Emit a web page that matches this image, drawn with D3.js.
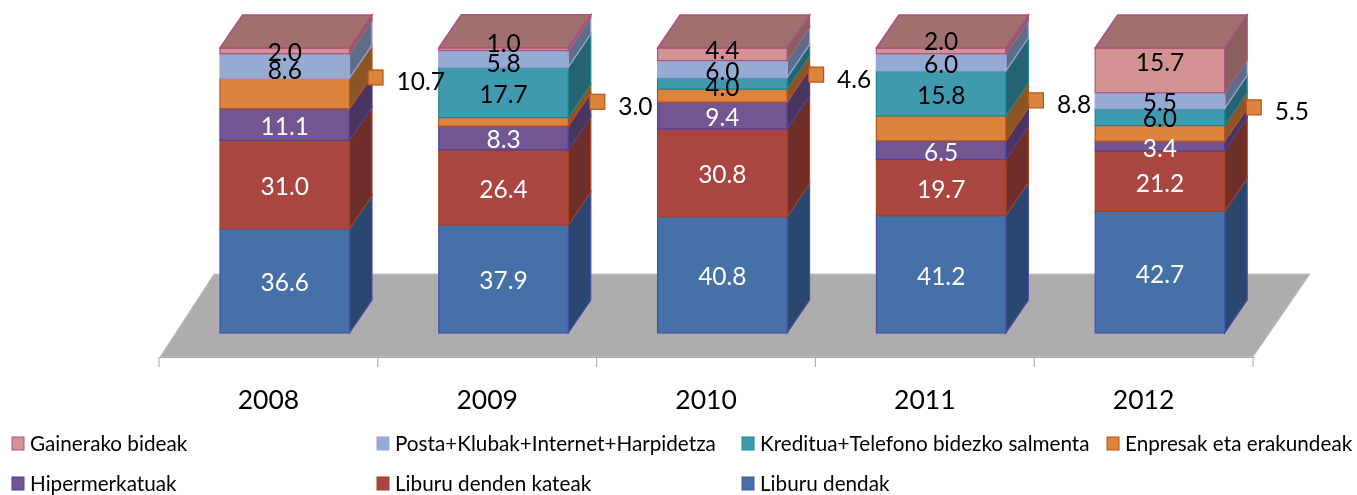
<!DOCTYPE html>
<html>
<head>
<meta charset="utf-8">
<script src="https://cdn.jsdelivr.net/npm/d3@7"></script>
<style>
    html, body {margin: 0; padding: 0; background: #fff;}
    svg {display: block;}
    text {font-family: Lato, "Open Sans", sans-serif;}
</style>
</head>
<body>
<svg id="chart"></svg>
<script>
//chart data
const years = ['2008', '2009', '2010', '2011', '2012'];
const liburuDendak = [36.6, 37.9, 40.8, 41.2, 42.7];
const liburuKateak = [31.0, 26.4, 30.8, 19.7, 21.2];
const hipermerkatuak = [11.1, 8.3, 9.4, 6.5, 3.4];
const enpresak = [10.7, 3.0, 4.6, 8.8, 5.5];
const kreditua = [0, 17.7, 4.0, 15.8, 6.0];
const posta = [8.6, 5.8, 6.0, 6.0, 5.5];
const gainerako = [2.0, 1.0, 4.4, 2.0, 15.7];

const seriesNames = [
    'Liburu dendak', 'Liburu denden kateak', 'Hipermerkatuak', 'Enpresak eta erakundeak',
    'Kreditua+Telefono bidezko salmenta', 'Posta+Klubak+Internet+Harpidetza', 'Gainerako bideak'
];
const seriesValues = [liburuDendak, liburuKateak, hipermerkatuak, enpresak, kreditua, posta, gainerako];

//legend reads in reverse stacking order, four on the first row
const legendOrder = seriesNames.slice().reverse();

//colours per series: front face, side face, outline
const frontColors = ['#4571a8', '#aa4541', '#735592', '#dc843b', '#3f9aaf', '#95abd3', '#d29392'];
const sideColors = ['#2c4770', '#6e2d2b', '#4a3660', '#8c5528', '#286470', '#5f6e88', '#8a5f5e'];
const strokeColors = ['#4a50a8', '#a8421f', '#4a3fa0', '#b8521a', '#158a90', '#a0a4d8', '#b04f80'];
const topColor = '#a0706e';
const whiteLabels = ['Liburu dendak', 'Liburu denden kateak', 'Hipermerkatuak'];

const width = 1357, height = 495;
const barInset = 61, barWidth = 129.5;
const depthX = 22.5, depthY = 33;

//manual fixes for labels the original moved around to make room
const labelNudge = {
    '2008|Posta+Klubak+Internet+Harpidetza': 3,
    '2009|Gainerako bideak': -8,
    '2009|Posta+Klubak+Internet+Harpidetza': 3,
    '2010|Gainerako bideak': -6,
    '2010|Kreditua+Telefono bidezko salmenta': 2,
    '2011|Gainerako bideak': -11,
    '2012|Gainerako bideak': -10
};
//how far the callout squares sit above the orange segment and right of the bar
const calloutLift = [16, 20, 21, 28, 26];
const calloutSlide = [26, 29, 29, 30, 29];

const svg = d3.select('#chart').attr('width', width).attr('height', height);

const defs = svg.append('defs');
defs.append('filter').attr('id', 'soft')
    .attr('x', 0).attr('y', 0).attr('width', 1).attr('height', 1)
    .attr('filterUnits', 'objectBoundingBox')
    .append('feGaussianBlur').attr('stdDeviation', 0.55);

const root = svg.append('g').attr('filter', 'url(#soft)');
root.append('rect').attr('width', width).attr('height', height).attr('fill', '#fff');

const x = d3.scaleBand().domain(years).range([159, 1253]);
const y = d3.scaleLinear().domain([0, 100]).range([333, 48]);

const rows = years.map(function(year, i) {
    const row = {year: year};
    seriesNames.forEach(function(name, s) {row[name] = seriesValues[s][i];});
    return row;
});
const stacked = d3.stack().keys(seriesNames)(rows);

//floor
const floorY = 357;
const floorBack = 274;
root.append('polygon')
    .attr('points', [[160, floorY], [214, floorBack], [1310, floorBack], [1253, floorY]].join(' '))
    .attr('fill', '#adadad')
    .attr('stroke', '#c4c4c4');

//category axis, ticks sit on the band edges
const axis = root.append('g')
    .attr('transform', 'translate(0,' + floorY + ')')
    .call(d3.axisBottom(x).tickSize(0).tickPadding(33));
axis.select('.domain').attr('stroke', '#a6a6a6');
axis.selectAll('text')
    .attr('font-size', 26.5)
    .attr('font-family', 'Lato')
    .attr('fill', '#000');
axis.selectAll('line.edge')
    .data(years.concat('end'))
    .join('line')
    .attr('class', 'edge')
    .attr('x1', function(d) {return d === 'end' ? x.range()[1] : x(d);})
    .attr('x2', function(d) {return d === 'end' ? x.range()[1] : x(d);})
    .attr('y1', 0)
    .attr('y2', 10)
    .attr('stroke', '#a6a6a6');

//bars, bottom to top
const bars = root.append('g').attr('class', 'bars');
stacked.forEach(function(layer, s) {
    const cells = layer.filter(function(d) {return d[1] - d[0] > 0;});
    const g = bars.append('g');

    g.selectAll('polygon.side')
        .data(cells)
        .join('polygon')
        .attr('class', 'side')
        .attr('points', function(d) {
            const right = x(d.data.year) + barInset + barWidth;
            return [[right, y(d[0])], [right + depthX, y(d[0]) - depthY],
                [right + depthX, y(d[1]) - depthY], [right, y(d[1])]].join(' ');
        })
        .attr('fill', sideColors[s])
        .attr('stroke', strokeColors[s])
        .attr('stroke-width', 1.2);

    g.selectAll('rect')
        .data(cells)
        .join('rect')
        .attr('x', function(d) {return x(d.data.year) + barInset;})
        .attr('y', function(d) {return y(d[1]);})
        .attr('width', barWidth)
        .attr('height', function(d) {return y(d[0]) - y(d[1]);})
        .attr('fill', frontColors[s])
        .attr('stroke', strokeColors[s])
        .attr('stroke-width', 1.2);
});

//lid on top of each stack
const topLayer = stacked[stacked.length - 1];
bars.append('g').selectAll('polygon')
    .data(topLayer)
    .join('polygon')
    .attr('points', function(d) {
        const left = x(d.data.year) + barInset;
        return [[left, y(d[1])], [left + depthX, y(d[1]) - depthY],
            [left + barWidth + depthX, y(d[1]) - depthY], [left + barWidth, y(d[1])]].join(' ');
    })
    .attr('fill', topColor)
    .attr('stroke', strokeColors[strokeColors.length - 1])
    .attr('stroke-width', 1.5);

//value labels inside the bars (the orange series gets callouts instead)
const labels = root.append('g').attr('class', 'labels').attr('font-size', 24.5).attr('text-anchor', 'middle');
stacked.forEach(function(layer) {
    if (layer.key === 'Enpresak eta erakundeak') return;
    labels.append('g')
        .selectAll('text')
        .data(layer.filter(function(d) {return d[1] - d[0] > 0;}))
        .join('text')
        .attr('x', function(d) {return x(d.data.year) + barInset + barWidth / 2;})
        .attr('y', function(d) {
            const nudge = labelNudge[d.data.year + '|' + layer.key] || 0;
            return (y(d[0]) + y(d[1])) / 2 + nudge + 10.5;
        })
        .attr('fill', whiteLabels.includes(layer.key) ? '#fff' : '#000')
        .text(function(d) {return (d[1] - d[0]).toFixed(1);});
});

//callouts for Enpresak eta erakundeak
const orangeLayer = stacked[seriesNames.indexOf('Enpresak eta erakundeak')];
const callouts = root.append('g').attr('class', 'callouts');
orangeLayer.forEach(function(d, i) {
    const cx = x(d.data.year) + barInset + barWidth + calloutSlide[i];
    const cy = (y(d[0]) + y(d[1])) / 2 - calloutLift[i];
    callouts.append('rect')
        .attr('x', cx - 7.5)
        .attr('y', cy - 7.5)
        .attr('width', 15)
        .attr('height', 15)
        .attr('fill', frontColors[3])
        .attr('stroke', strokeColors[3])
        .attr('stroke-width', 1.2);
    callouts.append('text')
        .attr('x', cx + 21)
        .attr('y', cy + 13)
        .attr('font-size', 24.5)
        .attr('fill', '#000')
        .text((d[1] - d[0]).toFixed(1));
});

//legend
const legendX = d3.scalePoint().domain(d3.range(4)).range([12, 1107]);
const legendY = d3.scalePoint().domain(d3.range(2)).range([444, 484]);
const legend = root.append('g').attr('class', 'legend');
const legendItems = legend.selectAll('g')
    .data(legendOrder)
    .join('g')
    .attr('transform', function(d, i) {
        return 'translate(' + legendX(i % 4) + ',' + legendY(Math.floor(i / 4)) + ')';
    });
legendItems.append('rect')
    .attr('y', -7)
    .attr('width', 12)
    .attr('height', 13)
    .attr('fill', function(d) {return frontColors[seriesNames.indexOf(d)];})
    .attr('stroke', function(d) {return strokeColors[seriesNames.indexOf(d)];});
legendItems.append('text')
    .attr('x', 18)
    .attr('y', 7)
    .attr('font-size', 20.7)
    .attr('fill', '#000')
    .text(function(d) {return d;});
</script>
</body>
</html>
